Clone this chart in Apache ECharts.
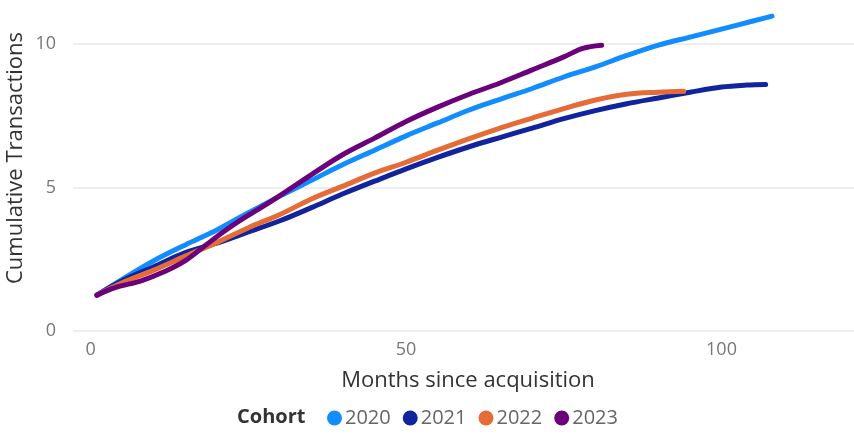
<!DOCTYPE html>
<html>
<head>
<meta charset="utf-8">
<title>Cumulative Transactions by Cohort</title>
<script src="https://cdn.jsdelivr.net/npm/echarts@6/dist/echarts.min.js"></script>
<style>
  html, body { margin: 0; padding: 0; background: #ffffff; }
  #chart { width: 854px; height: 434px; }
</style>
</head>
<body>
<div id="chart"></div>
<script>
// Cohort names and colours
const cohorts = ['2020', '2021', '2022', '2023'];
const cohortColors = ['#118DFF', '#12239E', '#E66C37', '#6B007B'];

// Months since acquisition for each cohort's sample points
const months2020 = [1, 5, 10, 15, 20, 25, 30, 35, 40, 45, 50, 55, 60, 65, 70, 75, 80, 85, 90, 95, 100, 105, 108];
const months2021 = [1, 5, 10, 15, 20, 25, 30, 35, 40, 45, 50, 55, 60, 65, 70, 75, 80, 85, 90, 95, 100, 104, 107];
const months2022 = [1, 5, 10, 15, 20, 25, 30, 35, 40, 45, 50, 55, 60, 65, 70, 75, 80, 85, 90, 94];
const months2023 = [1, 4, 8, 12, 15, 18, 21, 24, 27, 30, 35, 40, 45, 50, 55, 60, 65, 70, 75, 78, 81];

// Cumulative transactions per customer
const values2020 = [1.25, 1.8, 2.45, 3.0, 3.52, 4.12, 4.7, 5.25, 5.8, 6.3, 6.8, 7.25, 7.7, 8.08, 8.45, 8.85, 9.2, 9.6, 9.96, 10.24, 10.52, 10.8, 10.97];
const values2021 = [1.25, 1.75, 2.24, 2.73, 3.06, 3.45, 3.84, 4.3, 4.78, 5.22, 5.65, 6.05, 6.42, 6.75, 7.07, 7.4, 7.68, 7.92, 8.12, 8.32, 8.5, 8.57, 8.59];
const values2022 = [1.25, 1.68, 2.12, 2.61, 3.08, 3.6, 4.06, 4.6, 5.05, 5.5, 5.88, 6.3, 6.7, 7.08, 7.42, 7.75, 8.05, 8.25, 8.32, 8.35];
const values2023 = [1.25, 1.52, 1.75, 2.1, 2.45, 2.95, 3.45, 3.9, 4.3, 4.72, 5.45, 6.15, 6.72, 7.3, 7.8, 8.25, 8.65, 9.1, 9.55, 9.85, 9.96];

// Axis ticks and titles
const xTicks = [0, 50, 100];
const yTicks = [0, 5, 10];
const xTitle = 'Months since acquisition';
const yTitle = 'Cumulative Transactions';

const monthSets = [months2020, months2021, months2022, months2023];
const valueSets = [values2020, values2021, values2022, values2023];

const FONT = '"Open Sans", "Noto Sans", sans-serif';

const chart = echarts.init(document.getElementById('chart'), null, { renderer: 'canvas' });

const series = cohorts.map((name, i) => ({
  name: name,
  type: 'line',
  data: monthSets[i].map((m, k) => [m, valueSets[i][k]]),
  smooth: 0.35,
  showSymbol: false,
  symbol: 'circle',
  clip: false,
  lineStyle: { width: 5, color: cohortColors[i], cap: 'round', join: 'round' },
  itemStyle: { color: cohortColors[i] },
  emphasis: { disabled: true }
}));

chart.setOption({
  animation: false,
  backgroundColor: '#ffffff',
  color: cohortColors,
  title: {
    text: 'Cohort',
    left: 232,
    top: 402,
    textStyle: { fontFamily: FONT, fontSize: 20, fontWeight: 'bold', color: '#333333' }
  },
  legend: {
    data: cohorts,
    left: 322,
    top: 403,
    icon: 'circle',
    itemWidth: 15,
    itemHeight: 15,
    itemGap: 12,
    textStyle: { fontFamily: FONT, fontSize: 20, color: '#666666', padding: [0, 0, 0, -2] }
  },
  // vertical title of the value axis
  graphic: [{
    type: 'text',
    x: 16,
    y: 158,
    rotation: Math.PI / 2,
    silent: true,
    style: {
      text: yTitle,
      fontFamily: FONT,
      fontSize: 22,
      fill: '#333333',
      align: 'center',
      verticalAlign: 'middle'
    }
  }],
  grid: { left: 73, right: 0, top: 44, bottom: 103, containLabel: false, outerBoundsMode: 'none' },
  xAxis: {
    type: 'value',
    min: -2.8,
    max: 121,
    splitNumber: 2,
    name: xTitle,
    nameLocation: 'middle',
    nameGap: 39,
    nameTextStyle: { fontFamily: FONT, fontSize: 22, color: '#333333', padding: [0, 0, 0, 9] },
    axisLine: { show: false },
    axisTick: { show: false },
    splitLine: { show: false },
    axisLabel: {
      margin: 10,
      fontFamily: FONT,
      fontSize: 18,
      color: '#777777',
      formatter: v => (xTicks.indexOf(v) >= 0 ? String(v) : '')
    }
  },
  yAxis: {
    type: 'value',
    min: 0,
    max: 10,
    interval: 5,
    axisLine: { show: false },
    axisTick: { show: false },
    splitLine: { show: true, lineStyle: { color: '#E9E9E9', width: 1.5 } },
    axisLabel: {
      margin: 17,
      fontFamily: FONT,
      fontSize: 18,
      color: '#777777',
      formatter: v => (yTicks.indexOf(v) >= 0 ? String(v) : '')
    }
  },
  series: series
});
</script>
</body>
</html>
